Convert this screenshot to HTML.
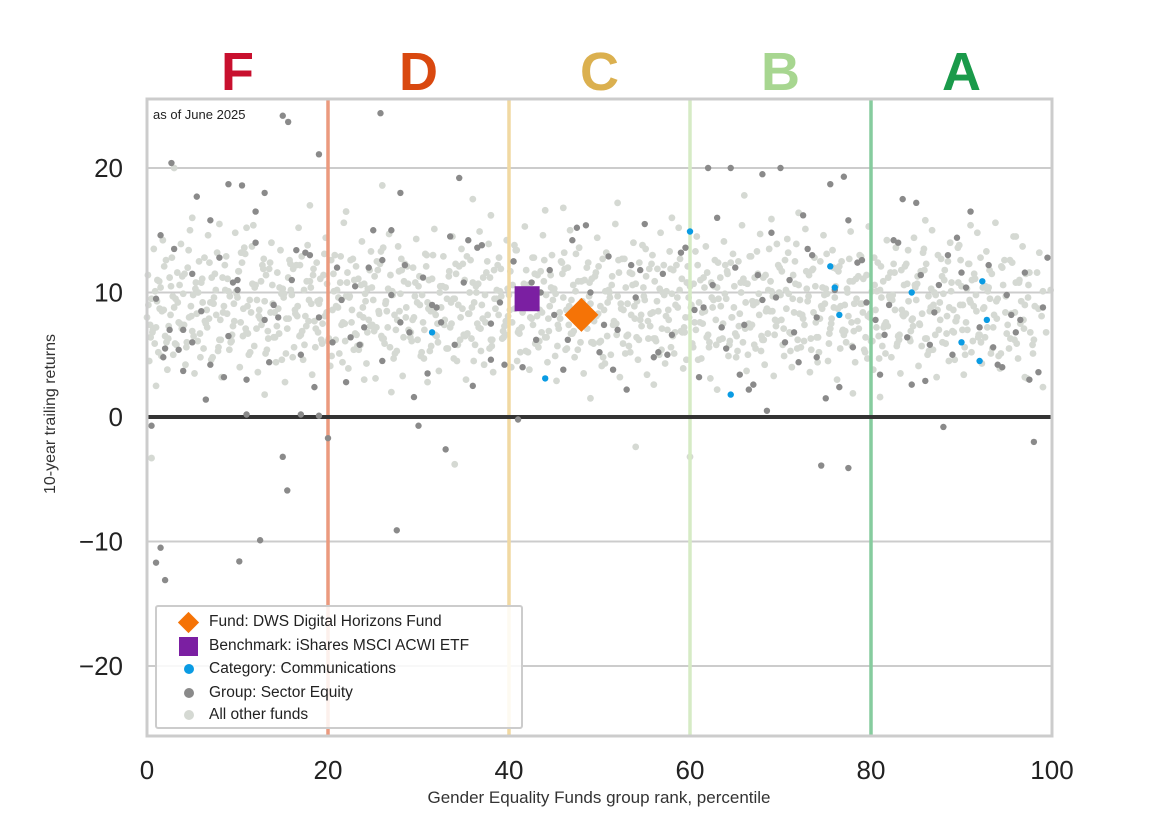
<!DOCTYPE html>
<html><head><meta charset="utf-8"><style>
body{margin:0;background:#fff;}
svg text{font-family:"Liberation Sans",sans-serif;}
</style></head><body>
<svg id="chart" width="1170" height="827" viewBox="0 0 1170 827" xmlns="http://www.w3.org/2000/svg">
<g id="grid"></g><g id="lightg"></g><g id="vlines"></g><g id="darkg"></g><g id="blueg"></g><g id="special"></g><g id="axes"></g>
</svg>
<script>
const xTicks=[0,20,40,60,80,100];
const yTicks=[-20,-10,0,10,20];
const grades=["F","D","C","B","A"];
const gradeCenters=[10,30,50,70,90];
const gradeColors=["#c8102e","#d9480f","#dbb04f","#a7d690","#1a9a4a"];
const cutoffs=[20,40,60,80];
const cutColors=["#eb9a7e","#f1d9a2","#d6ebc5","#86cc9e"];
const fundX=[48], fundY=[8.2];
const benchX=[42], benchY=[9.5];
const blueX=[31.5,44,60,64.5,75.5,76,76.5,84.5,90,92,92.3,92.8];
const blueY=[6.8,3.1,14.9,1.8,12.1,10.4,8.2,10,6,4.5,10.9,7.8];
const darkX=[0.5,1,1.5,1.8,2,2.7,15,15.6,19,25.8,12.5,10.2,27.6,15,15.5,20,33,30,19,17,11,4,9,10.5,13,5.5,28,34.5,27,64.5,70,68,62,75.5,77,83.5,85,74.5,77.5,88,98,41,68.5,
1,2,3,4,5,6,7,8,9,10,11,12,13,14,16,17,18,19,20.5,21,22,23,24,25,26,27,28.5,29,30.5,31,32,33.5,34,35,36,37,38,39,40.5,41.5,43,44.5,45,46,47,49,50,51,52,53,54,55,56,57,58,59,60.5,61,62.5,63,64,65,66,67,68,69,70.5,71,72,73,74,75,76,77.5,78,79,80.5,81,82,83,84,85.5,86,87,88.5,89,90.5,91,92,93,94,95,96,97,98.5,99,
1.5,3.5,5,7,8.5,10,12,14.5,16.5,18.5,21.5,23.5,26,29.5,32.5,35.5,38,42.5,46.5,48.5,51.5,54.5,57.5,59.5,63.5,66.5,69.5,72.5,74,78.5,81.5,84.5,87.5,89.5,93.5,95.5,97.5,99.5,
2.5,6.5,9.5,13.5,17.5,22.5,24.5,28,31.5,36.5,39.5,43.5,47.5,50.5,53.5,56.5,61.5,65.5,67.5,71.5,73.5,76.5,79.5,82.5,86.5,90,94.5,96.5];
const darkY=[-0.7,-11.7,-10.5,4.8,-13.1,20.4,24.2,23.7,21.1,24.4,-9.9,-11.6,-9.1,-3.2,-5.9,-1.7,-2.6,-0.7,0.1,0.2,0.2,3.7,18.7,18.6,18,17.7,18,19.2,15,20,20,19.5,20,18.7,19.3,17.5,17.2,-3.9,-4.1,-0.8,-2,-0.2,0.5,
9.5,5.5,13.5,7,11.5,8.5,4.2,12.8,6.5,10.2,3,14,7.8,9,11,5,13,8,6,12,2.8,10.5,7.2,15,4.5,9.8,12.2,6.8,11.2,3.5,8.8,14.5,5.8,10.8,2.5,13.8,7.5,9.2,12.5,4,6.2,11.8,8.2,3.8,14.2,10,5.2,12.9,7,2.2,9.6,15.5,4.8,11.5,6.6,13.2,8.6,3.2,10.6,16,5.5,12,7.4,2.6,9.4,14.8,6,11,4.4,13.5,8,1.5,10.2,15.8,5.6,12.6,7.8,3.4,9,14,6.4,11.4,2.9,8.4,13,5,10.4,16.5,7.2,12.2,4.2,9.8,6.8,11.6,3.6,8.8,14.6,5.4,
6,15.8,3.2,11,16.5,8,13.4,2.4,9.4,5.8,12.6,1.6,7.6,14.2,4.6,10.8,6.2,15.4,3.8,11.8,5,13.6,7.2,2.2,9.6,16.2,4.8,12.4,6.6,2.6,10.6,14.4,5.6,8.2,3,12.8,7,1.4,
10.8,4.4,13.2,6.4,12,7.6,9,13.6,4.2,10,15.2,7.4,12.2,5.2,8.8,3.4,11.4,6.8,13,2.4,9.2,14.2,5.8,11.6,4,7.8,12.6,6.2];
const lx=[0,0.5,1,1.5,2,2.5,3,3.5,4,4.5,5,5.5,6,6.5,7,7.5,8,8.5,9,9.5,10,10.5,11,11.5,12,12.5,13,13.5,14,14.5,15,15.5,16,16.5,17,17.5,18,18.5,19,19.5,20,20.5,21,21.5,22,22.5,23,23.5,24,24.5,25,25.5,26,26.5,27,27.5,28,28.5,29,29.5,30,30.5,31,31.5,32,32.5,33,33.5,34,34.5,35,35.5,36,36.5,37,37.5,38,38.5,39,39.5,40,40.5,41,41.5,42,42.5,43,43.5,44,44.5,45,45.5,46,46.5,47,47.5,48,48.5,49,49.5,50,50.5,51,51.5,52,52.5,53,53.5,54,54.5,55,55.5,56,56.5,57,57.5,58,58.5,59,59.5,60,60.5,61,61.5,62,62.5,63,63.5,64,64.5,65,65.5,66,66.5,67,67.5,68,68.5,69,69.5,70,70.5,71,71.5,72,72.5,73,73.5,74,74.5,75,75.5,76,76.5,77,77.5,78,78.5,79,79.5,80,80.5,81,81.5,82,82.5,83,83.5,84,84.5,85,85.5,86,86.5,87,87.5,88,88.5,89,89.5,90,90.5,91,91.5,92,92.5,93,93.5,94,94.5,95,95.5,96,96.5,97,97.5,98,98.5,99,99.5,100];
const ly1=[8,9.5,7.2,10.4,6.5,11.2,8.8,7.6,9.9,12,6.9,8.3,10.8,7.5,9.2,11.5,6.2,8.9,10.1,7.3,9.6,12.4,6.8,8.4,10.6,7.9,9.3,11.9,6.4,8.7,10.3,7.1,9.8,12.2,6.6,8.1,10.9,7.7,9.1,11.4,6.1,8.6,10.2,7.4,9.7,12.6,6.7,8.2,10.7,7.8,9.4,11.8,6.3,8.5,10,7,9.9,12.3,6.9,8,10.5,7.6,9.2,11.1,6.5,8.8,10.4,7.2,9.5,12.1,6.6,8.3,10.8,7.5,9,11.6,6.2,8.7,10.1,7.3,9.8,12.5,6.8,8.4,10.6,7.9,9.3,11.7,6.4,8.9,10.3,7.1,9.6,12,6.7,8.1,10.9,7.7,9.1,11.3,6,8.6,10.2,7.4,9.7,12.7,6.5,8.2,10.7,7.8,9.4,11.9,6.3,8.5,10,7,9.9,12.2,6.9,8,10.5,7.6,9.2,11.2,6.6,8.8,10.4,7.2,9.5,12.4,6.7,8.3,10.8,7.5,9,11.5,6.2,8.7,10.1,7.3,9.8,12.6,6.8,8.4,10.6,7.9,9.3,11.8,6.4,8.9,10.3,7.1,9.6,12.1,6.6,8.1,10.9,7.7,9.1,11.4,6.1,8.6,10.2,7.4,9.7,12.3,6.5,8.2,10.7,7.8,9.4,11.7,6.3,8.5,10,7,9.9,12.5,6.9,8,10.5,7.6,9.2,11.1,6.6,8.8,10.4,7.2,9.5,12,6.7,8.3,10.8,7.5,9,11.6,6.2,8.7,10.1];
const ly2=[4.5,13.5,5.2,14.2,3.8,12.8,5.8,13.9,4.2,15,3.5,12.5,5.5,14.6,4.8,13.2,3.2,12.9,6,14.8,4,13.6,5,15.4,3.6,12.2,5.4,14,4.4,13.4,2.8,12.6,5.6,15.2,4.6,13.8,3.4,12.4,6.2,14.4,4.1,13,5.1,15.6,3.9,12.7,5.7,14.1,4.3,13.3,3.1,12.3,5.9,14.7,4.7,13.7,3.3,12.1,6.1,14.3,4.9,13.1,5.3,15.1,3.7,12.9,5.5,14.5,4.5,13.5,3,12.6,5.8,14.9,4.2,13.9,3.6,12.2,6.3,14.2,4,13.4,5.2,15.3,3.8,12.8,5.6,14.6,4.4,13,2.9,12.5,5.4,15,4.8,13.6,3.5,12.4,6,14.4,4.1,13.2,5,15.5,3.2,12.7,5.7,14,4.6,13.8,3.4,12.3,6.1,14.8,4.3,13.3,5.1,15.2,3.9,12.1,5.9,14.5,4.7,13.7,3.1,12.6,6.2,14.1,4.9,13.1,5.3,15.4,3.7,12.9,5.5,14.7,4.2,13.5,3.3,12.2,5.8,14.3,4,13.9,5.6,15.1,3.6,12.8,5.2,14.6,4.5,13.4,3,12.5,6,14.9,4.4,13,5.4,15.3,3.8,12.4,5.7,14.2,4.8,13.6,3.5,12.1,6.3,14.4,4.1,13.2,5,15,3.2,12.7,5.9,14,4.6,13.8,3.4,12.3,6.1,14.8,4.3,13.3,5.1,15.6,3.9,12.6,5.5,14.5,4.7,13.7,3.1];
const ly3=[9,7,11,8.5,6,10.5,9.5,7.5,11.5,8,6.5,10,9.2,7.2,11.2,8.2,6.2,10.2,9.7,7.7,11.7,8.7,6.7,10.7,9.4,7.4,11.4,8.4,6.4,10.4,9.9,7.9,11.9,8.9,6.9,10.9,9.1,7.1,11.1,8.1,6.1,10.1,9.6,7.6,11.6,8.6,6.6,10.6,9.3,7.3,11.3,8.3,6.3,10.3,9.8,7.8,11.8,8.8,6.8,10.8,9,7,11,8.5,6,10.5,9.5,7.5,11.5,8,6.5,10,9.2,7.2,11.2,8.2,6.2,10.2,9.7,7.7,11.7,8.7,6.7,10.7,9.4,7.4,11.4,8.4,6.4,10.4,9.9,7.9,11.9,8.9,6.9,10.9,9.1,7.1,11.1,8.1,6.1,10.1,9.6,7.6,11.6,8.6,6.6,10.6,9.3,7.3,11.3,8.3,6.3,10.3,9.8,7.8,11.8,8.8,6.8,10.8,9,7,11,8.5,6,10.5,9.5,7.5,11.5,8,6.5,10,9.2,7.2,11.2,8.2,6.2,10.2,9.7,7.7,11.7,8.7,6.7,10.7,9.4,7.4,11.4,8.4,6.4,10.4,9.9,7.9,11.9,8.9,6.9,10.9,9.1,7.1,11.1,8.1,6.1,10.1,9.6,7.6,11.6,8.6,6.6,10.6,9.3,7.3,11.3,8.3,6.3,10.3,9.8,7.8,11.8,8.8,6.8,10.8,9,7,11,8.5,6,10.5,9.5];
const ly4=[7.4,5.9,10.9,8.6,6.3,9.7,11.6,7.1,5.6,8.9,10.3,6.7,12.8,7.9,9.1,5.3,11.2,8.3,6.1,10.1,7.6,13.1,9.4,5.7,8.1,11.9,6.9,10.6,7.3,9.9,5.1,12.3,8.6,6.5,10.2,7.7,11.4,9.3,5.9,8.4,12.6,6.2,10.8,7.5,9.6,5.4,11.1,8.8,6.8,10.4,7.2,13.3,9.1,5.6,8.2,11.7,6.4,10.7,7.8,9.2,5.2,12.1,8.5,6.6,10,7.4,11.3,9.5,5.8,8.7,12.9,6.3,10.5,7.1,9.8,5.5,11.8,8.2,6.9,10.3,7.6,13.4,9,5.3,8,11.5,6.1,10.9,7.9,9.4,5.7,12.4,8.6,6.7,10.1,7.3,11,9.7,5.9,8.3,12.7,6.5,10.6,7.5,9.1,5.1,11.6,8.9,6.2,10.4,7.7,13,9.3,5.4,8.1,11.9,6.8,10.2,7.2,9.6,5.6,12.2,8.4,6.4,10.8,7.8,11.2,9.9,5.8,8.8,12.5,6,10.7,7.4,9.2,5.3,11.4,8.5,6.6,10,7.1,13.2,9.5,5.5,8.2,11.7,6.3,10.5,7.9,9.8,5.9,12,8.7,6.9,10.3,7.6,11.1,9.1,5.2,8,12.8,6.5,10.9,7.3,9.4,5.7,11.8,8.3,6.1,10.6,7.5,13.5,9.7,5.4,8.6,11.3,6.7,10.1,7.7,9,5.6,12.3,8.9,6.4,10.4,7.2,11.5,9.3,5.1,8.4,12.6,6.2,10.8,7.8,9.6,5.8,11.6,8.1,6.8,10.2,7.4,13];
const ly5=[11.4,6.8,9.3,4.9,12.6,8.2,5.9,10.6,7.4,13.4,9.8,6.1,11.1,8.6,4.6,10.2,7.8,12.2,5.4,9.1,11.7,6.5,8.9,13.7,7.1,10.9,5.1,12.4,8.4,6.7,9.6,11.2,4.8,8.1,12.9,7.3,10.4,5.6,9.4,13.1,6.3,11.5,8.8,4.4,10.8,7.6,12.1,5.8,9.9,11.8,6.9,8.5,13.6,7.2,10.1,5.3,12.7,8,6.4,9.7,11.3,4.7,8.7,13,7.5,10.5,5.5,9.2,12.3,6.2,11,8.3,4.5,10.7,7.9,12.5,5.7,9.5,11.9,6.6,8.6,13.8,7,10.3,5.2,12.8,8.1,6.8,9.8,11.4,4.9,8.4,13.2,7.4,10.6,5.4,9.3,12,6,11.6,8.9,4.3,10,7.7,12.6,5.9,9.1,11.5,6.4,8.2,13.5,7.3,10.9,5,12.2,8.6,6.5,9.6,11.1,4.6,8.8,13.3,7.6,10.4,5.6,9.4,12.4,6.3,11.7,8,4.8,10.8,7.1,12.9,5.8,9.9,11.2,6.7,8.5,13.9,7.8,10.2,5.3,12.5,8.3,6.1,9.7,11.9,4.4,8.7,13.1,7.5,10.5,5.5,9,12.7,6.9,11.3,8.4,4.7,10.1,7.2,12.1,5.1,9.5,11.6,6.2,8.1,13.4,7.9,10.7,5.7,12.3,8.8,6.6,9.2,11,4.5,8.6,13.6,7,10.3,5.2,9.8,12.8,6.4,11.8,8.2,4.9,10.6,7.4,12.4,5.9,9.3,11.5,6.8,8.9,13.2];
const ly6=[6.4,10.1,8.7,12.1,7.3,5,9.2,11.3,6,8.1,10.8,4.8,7.7,12.4,9.6,5.6,8.4,11.1,6.6,9.9,13.2,7.1,5.2,10.4,8.6,12.7,6.3,9.1,11.6,4.6,7.9,10.2,8.3,12.2,5.8,9.4,11.9,6.8,7.5,10.7,4.9,8.9,12.9,6.1,9.7,11,5.4,8,10.3,7.4,12.5,6.5,9.3,11.4,5.1,8.5,10.9,7,12,6.2,9.8,13,5.7,8.2,10.5,7.8,11.7,4.7,9,12.3,6.7,8.8,10,5.3,7.6,11.2,9.5,12.8,6.4,8.1,10.6,4.5,7.2,11.8,9.1,5.9,8.6,12.6,6.9,10.2,7.4,11.5,5.5,9.4,13.1,6,8.3,10.8,7.7,12.1,4.8,9.2,11.3,6.6,8.7,10.4,5.2,7.9,12.4,9.7,6.3,8.4,11.9,7.1,10.1,5.6,9,12.7,6.8,8,10.7,4.6,7.5,11.6,9.6,5.8,8.9,12.2,6.1,10.5,7.3,11.1,5,9.3,13.3,6.5,8.5,10.9,7.8,12,4.9,9.9,11.4,6.2,8.2,10.3,5.4,7.6,12.5,9.1,6.7,8.8,11.7,7,10,5.7,9.5,12.9,6.4,8.3,10.6,4.7,7.2,11.2,9.8,5.9,8.6,12.3,6.9,10.4,7.4,11.8,5.3,9,13,6,8.1,10.8,7.7,12.6,5,9.4,11.5,6.6,8.7,10.1,5.5,7.9,12.1,9.7,6.3,8.4,11,7.1,10.6,5.1];
const lightExtraX=[0.5,34,54,60,3,22,18,26,36,46,52,58,66,72,86,96,1,13,27,49,63,81,99,8,38,5,11,24,31,44,56,69,78,91,97];
const lightExtraY=[-3.3,-3.8,-2.4,-3.2,20,16.5,17,18.6,17.5,16.8,17.2,16,17.8,16.4,15.8,14.5,2.5,1.8,2,1.5,2.2,1.6,2.4,15.5,16.2,16,15.2,3,2.8,16.6,2.6,15.9,1.9,15.4,3.2];

const svg=document.getElementById('chart');
const NS="http://www.w3.org/2000/svg";
const X0=147,X1=1052,Y0=417,PY=12.45;
const xs=v=>X0+(X1-X0)*v/100;
const ys=v=>Y0-v*PY;
function mk(tag,attrs,parent){const e=document.createElementNS(NS,tag);for(const k in attrs)e.setAttribute(k,attrs[k]);document.getElementById(parent).appendChild(e);return e;}
yTicks.forEach(t=>{if(t!==0){const l=mk('line',{x1:X0,x2:X1,y1:ys(t),y2:ys(t),stroke:'#cccccc','stroke-width':2},'grid');

}});
function light(x,y){const c=mk('circle',{cx:xs(x),cy:ys(y),r:3.4,fill:'#d5d9d3'},'lightg');

}
const lyAll=[ly1,ly2,ly3,ly4,ly5,ly6];
const lyOff=[0,0.25,0.15,0.35,0.1,0.4];
lyAll.forEach((arr,k)=>arr.forEach((v,i)=>{if(i<lx.length&&lx[i]+lyOff[k]<=100)light(lx[i]+lyOff[k],v);}));
lightExtraX.forEach((x,i)=>light(x,lightExtraY[i]));
cutoffs.forEach((c,i)=>{const l=mk('line',{x1:xs(c),x2:xs(c),y1:99,y2:736,stroke:cutColors[i],'stroke-width':3.5},'vlines');

});
const z=mk('line',{x1:X0,x2:X1,y1:ys(0),y2:ys(0),stroke:'#333','stroke-width':4},'vlines');


darkX.forEach((x,i)=>{const c=mk('circle',{cx:xs(x),cy:ys(darkY[i]),r:3.2,fill:'#8a8a8a'},'darkg');

});
blueX.forEach((x,i)=>{const c=mk('circle',{cx:xs(x),cy:ys(blueY[i]),r:3.2,fill:'#0a9be3'},'blueg');

});
benchX.forEach((x,i)=>{const r=mk('rect',{x:xs(x)-12.5,y:ys(benchY[i])-12.5,width:25,height:25,fill:'#7b1fa2'},'special');

});
fundX.forEach((x,i)=>{const cx=xs(x),cy=ys(fundY[i]);const p=mk('polygon',{points:`${cx},${cy-17} ${cx+17},${cy} ${cx},${cy+17} ${cx-17},${cy}`,fill:'#f57306'},'special');

});
const fr=mk('rect',{x:X0,y:99,width:X1-X0,height:637,fill:'none',stroke:'#cccccc','stroke-width':3},'axes');


xTicks.forEach(t=>{const e=mk('text',{x:xs(t),y:779,'font-size':26,'text-anchor':'middle',fill:'#222'},'axes');e.textContent=t;

});
yTicks.forEach(t=>{const e=mk('text',{x:123,y:ys(t)+9,'font-size':26,'text-anchor':'end',fill:'#222'},'axes');e.textContent=t===0?'0':(t<0?'\u2212'+(-t):t);

});
grades.forEach((g,i)=>{const e=mk('text',{x:xs(gradeCenters[i]),y:90,'font-size':54,'font-weight':'bold','text-anchor':'middle',fill:gradeColors[i]},'axes');e.textContent=g;

});
</script>
<div style="position:absolute;left:0;width:1198px;top:788px;text-align:center;font:17px 'Liberation Sans',sans-serif;color:#333">Gender Equality Funds group rank, percentile</div>
<div style="position:absolute;left:-54px;top:405px;width:210px;text-align:center;transform:rotate(-90deg);font:16px 'Liberation Sans',sans-serif;color:#333">10-year trailing returns</div>
<div style="position:absolute;left:153px;top:107px;font:13px 'Liberation Sans',sans-serif;color:#222">as of June 2025</div>
<div style="position:absolute;left:155px;top:605px;width:364px;height:120px;border:2px solid #ccc;border-radius:3px;background:rgba(255,255,255,0.85);font:15.5px 'Liberation Sans',sans-serif;color:#222">
<div style="position:absolute;left:10px;top:4px;height:22px;line-height:22px;padding-left:42px"><span style="position:absolute;left:14px;top:4px;width:15px;height:15px;background:#f57306;transform:rotate(45deg)"></span>Fund: DWS Digital Horizons Fund</div>
<div style="position:absolute;left:10px;top:28px;height:22px;line-height:22px;padding-left:42px"><span style="position:absolute;left:12px;top:2px;width:19px;height:19px;background:#7b1fa2"></span>Benchmark: iShares MSCI ACWI ETF</div>
<div style="position:absolute;left:10px;top:51px;height:22px;line-height:22px;padding-left:42px"><span style="position:absolute;left:17px;top:6px;width:10px;height:10px;border-radius:50%;background:#0a9be3"></span>Category: Communications</div>
<div style="position:absolute;left:10px;top:75px;height:22px;line-height:22px;padding-left:42px"><span style="position:absolute;left:17px;top:6px;width:10px;height:10px;border-radius:50%;background:#8a8a8a"></span>Group: Sector Equity</div>
<div style="position:absolute;left:10px;top:97px;height:22px;line-height:22px;padding-left:42px"><span style="position:absolute;left:17px;top:6px;width:10px;height:10px;border-radius:50%;background:#d5d9d3"></span>All other funds</div>
</div>
</body></html>
